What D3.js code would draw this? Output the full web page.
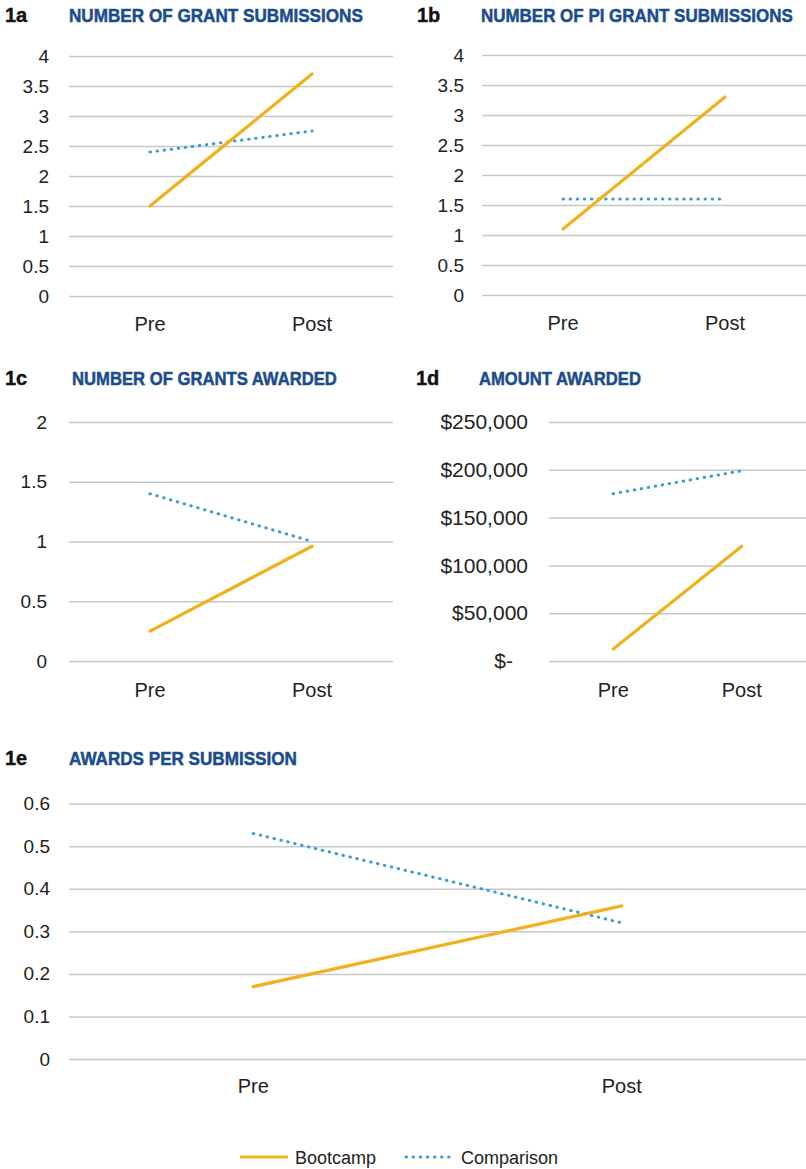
<!DOCTYPE html>
<html>
<head>
<meta charset="utf-8">
<script src="https://cdn.jsdelivr.net/npm/d3@7"></script>
<style>
  body { margin: 0; background: #fff; }
  svg { display: block; }
  .tick text { fill: #222; font-family: "Liberation Sans", Arial, sans-serif; }
</style>
</head>
<body>
<svg></svg>
<script>
const width = 806, height = 1169;
const svg = d3.select("svg").attr("width", width).attr("height", height);

// Data
const categories = ["Pre", "Post"];
const seriesNames = ["Bootcamp", "Comparison"];

const submissionsBootcamp = [1.5, 3.7];
const submissionsComparison = [2.4, 2.75];
const piSubmissionsBootcamp = [1.1, 3.3];
const piSubmissionsComparison = [1.6, 1.6];
const grantsBootcamp = [0.25, 0.96];
const grantsComparison = [1.4, 1.0];
const amountBootcamp = [12500, 120000];
const amountComparison = [175000, 199000];
const ratioBootcamp = [0.17, 0.36];
const ratioComparison = [0.53, 0.32];

const ticks4 = [0, 0.5, 1, 1.5, 2, 2.5, 3, 3.5, 4];
const ticks2 = [0, 0.5, 1, 1.5, 2];
const ticksAmount = [0, 50000, 100000, 150000, 200000, 250000];
const ticksRatio = [0, 0.1, 0.2, 0.3, 0.4, 0.5, 0.6];

const colors = { Bootcamp: "#EFB11C", Comparison: "#3C9BD7" };
const titleColor = "#1B4C8C";

// one panel = one small line chart
function drawPanel(p) {
    const g = svg.append("g");

    const x = d3.scaleBand().domain(categories).range([p.x0, p.x1]).padding(0);
    const y = d3.scaleLinear().domain([0, d3.max(p.ticks)]).range([p.yZero, p.yTop]);

    // panel id + title
    g.append("text")
        .attr("x", p.idX).attr("y", p.titleY)
        .attr("font-family", "Liberation Sans, Arial, sans-serif")
        .attr("font-weight", "bold").attr("font-size", 20)
        .attr("fill", "#111").attr("stroke", "#111").attr("stroke-width", 0.4)
        .text(p.id);
    // condensed title: squeeze horizontally to the width seen in the picture
    const title = g.append("text")
        .attr("font-family", "Liberation Sans Narrow, Arial Narrow, Liberation Sans, sans-serif")
        .attr("font-weight", "bold").attr("font-size", 19)
        .attr("fill", titleColor).attr("stroke", titleColor).attr("stroke-width", 0.5)
        .text(p.title);
    const natural = title.node().getComputedTextLength();
    title.attr("transform", `translate(${p.titleX},${p.titleY}) scale(${p.titleW / natural},1)`);

    // y axis with gridlines
    const yAxis = g.append("g")
        .attr("transform", `translate(${p.x0},0)`)
        .call(d3.axisLeft(y).tickValues(p.ticks).tickSize(-(p.x1 - p.x0)).tickPadding(p.tickPad).tickFormat(p.fmt));
    yAxis.select(".domain").remove();
    yAxis.selectAll(".tick line").attr("stroke", "#c8c8c8").attr("stroke-width", 1.5);
    yAxis.selectAll(".tick text").attr("font-size", p.tickSize);
    if (p.zeroShift) {
        yAxis.selectAll(".tick").filter(d => d === 0).select("text").attr("dx", -p.zeroShift);
    }

    // x labels
    g.selectAll(".xl").data(categories).enter().append("text")
        .attr("x", d => x(d) + x.bandwidth() / 2)
        .attr("y", p.yZero + p.xLabelDy)
        .attr("text-anchor", "middle")
        .attr("font-family", "Liberation Sans, Arial, sans-serif")
        .attr("font-size", 20).attr("fill", "#222")
        .text(d => d);

    const line = d3.line()
        .x((d, i) => x(categories[i]) + x.bandwidth() / 2)
        .y(d => y(d));

    g.append("path").datum(p.comparison)
        .attr("d", line).attr("fill", "none")
        .attr("stroke", colors.Comparison).attr("stroke-width", 3)
        .attr("stroke-linecap", "round").attr("stroke-dasharray", "0.5,6.6");

    g.append("path").datum(p.bootcamp)
        .attr("d", line).attr("fill", "none")
        .attr("stroke", colors.Bootcamp).attr("stroke-width", 3.2)
        .attr("stroke-linecap", "round");
}

const numFmt = d => d3.format("~g")(d);
const moneyFmt = d => d === 0 ? "$-" : "$" + d3.format(",")(d);

drawPanel({ id: "1a", title: "NUMBER OF GRANT SUBMISSIONS", idX: 5, titleX: 69, titleY: 22, titleW: 294,
    x0: 69, x1: 393, yZero: 296, yTop: 56, ticks: ticks4, fmt: numFmt, tickSize: 19, tickPad: 20, xLabelDy: 35,
    bootcamp: submissionsBootcamp, comparison: submissionsComparison });

drawPanel({ id: "1b", title: "NUMBER OF PI GRANT SUBMISSIONS", idX: 417, titleX: 481, titleY: 22, titleW: 312,
    x0: 482, x1: 806, yZero: 295, yTop: 55, ticks: ticks4, fmt: numFmt, tickSize: 19, tickPad: 18, xLabelDy: 35,
    bootcamp: piSubmissionsBootcamp, comparison: piSubmissionsComparison });

drawPanel({ id: "1c", title: "NUMBER OF GRANTS AWARDED", idX: 5, titleX: 72, titleY: 385, titleW: 265,
    x0: 69, x1: 393, yZero: 661, yTop: 422, ticks: ticks2, fmt: numFmt, tickSize: 19, tickPad: 22, xLabelDy: 36,
    bootcamp: grantsBootcamp, comparison: grantsComparison });

drawPanel({ id: "1d", title: "AMOUNT AWARDED", idX: 416, titleX: 479, titleY: 385, titleW: 162,
    x0: 549, x1: 806, yZero: 661, yTop: 422, ticks: ticksAmount, fmt: moneyFmt, tickSize: 21, tickPad: 21, xLabelDy: 36,
    zeroShift: 15,
    bootcamp: amountBootcamp, comparison: amountComparison });

drawPanel({ id: "1e", title: "AWARDS PER SUBMISSION", idX: 5, titleX: 69, titleY: 765, titleW: 228,
    x0: 69, x1: 806, yZero: 1059, yTop: 803.7, ticks: ticksRatio, fmt: numFmt, tickSize: 19, tickPad: 19, xLabelDy: 34,
    bootcamp: ratioBootcamp, comparison: ratioComparison });

// legend
const legend = svg.append("g");
const legendItems = [
    { name: seriesNames[0], x: 240, dash: null },
    { name: seriesNames[1], x: 406, dash: "0.5,6.6" }
];
legendItems.forEach(it => {
    legend.append("line")
        .attr("x1", it.x).attr("x2", it.x + 48)
        .attr("y1", 1157).attr("y2", 1157)
        .attr("stroke", colors[it.name]).attr("stroke-width", 3)
        .attr("stroke-linecap", it.dash ? "round" : "butt")
        .attr("stroke-dasharray", it.dash);
    legend.append("text")
        .attr("x", it.x + 55).attr("y", 1164)
        .attr("font-family", "Liberation Sans, Arial, sans-serif")
        .attr("font-size", 18).attr("fill", "#222")
        .text(it.name);
});
</script>
</body>
</html>
